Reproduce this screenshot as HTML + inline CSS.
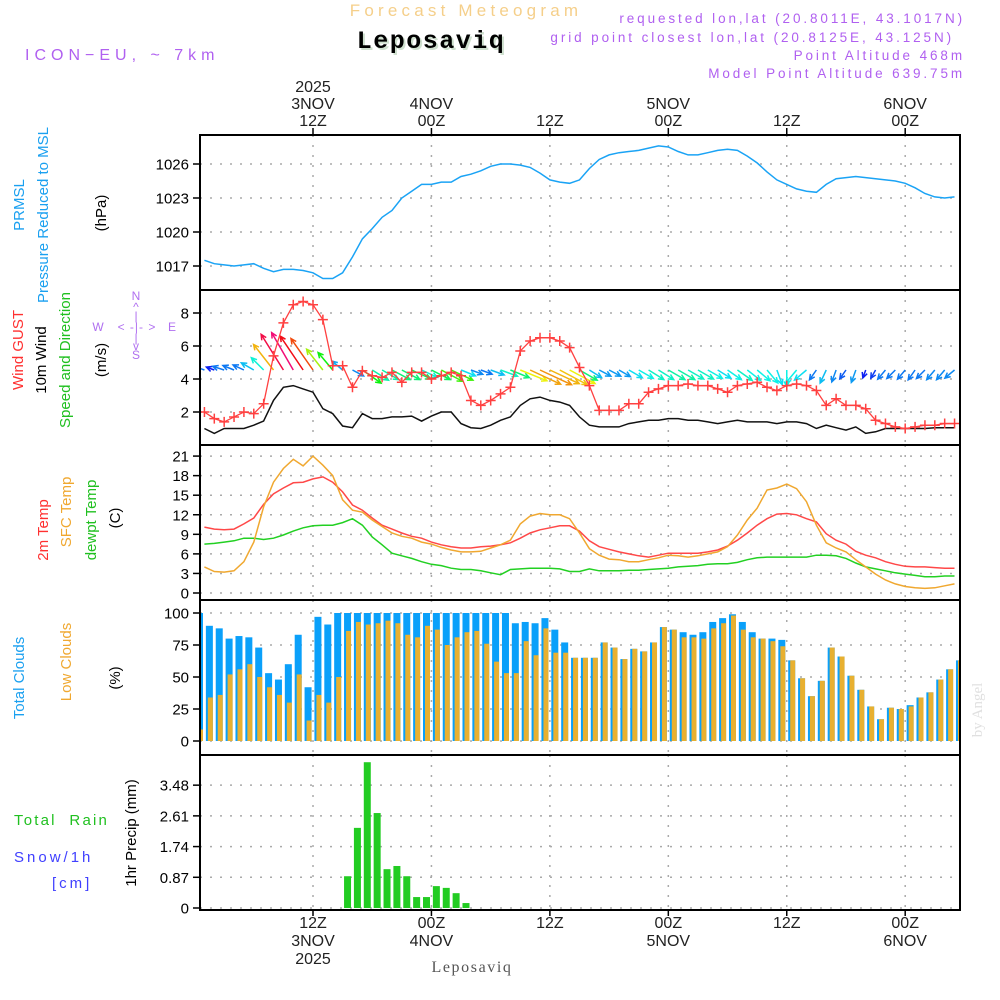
<!DOCTYPE html>
<html><head><meta charset="utf-8"><style>
html,body{margin:0;padding:0;background:#fff;}
svg{display:block;font-family:"Liberation Sans",sans-serif;}
</style></head><body>
<svg id="chart" width="1000" height="1000" viewBox="0 0 1000 1000" xmlns="http://www.w3.org/2000/svg">
<rect x="0" y="0" width="1000" height="1000" fill="#fff"/>
<text x="466" y="16" text-anchor="middle" font-size="17" fill="#f5cf8a" letter-spacing="4.2">Forecast Meteogram</text>
<text x="433" y="50" text-anchor="middle" font-size="25" font-weight="bold" font-family="Liberation Mono,monospace" fill="#cfe0cf" letter-spacing="1.5">Leposaviq</text>
<text x="431" y="48" text-anchor="middle" font-size="25" font-weight="bold" font-family="Liberation Mono,monospace" fill="#000" letter-spacing="1.5">Leposaviq</text>
<text x="25" y="60" font-size="16" fill="#b060f0" letter-spacing="5">ICON−EU, ~ 7km</text>
<g font-size="13.5" fill="#b060f0" letter-spacing="2.9" text-anchor="end">
<text x="965" y="23">requested lon,lat (20.8011E, 43.1017N)</text>
<text x="954" y="42">grid point closest lon,lat (20.8125E, 43.125N)</text>
<text x="965" y="60">Point Altitude 468m</text>
<text x="965" y="78">Model Point Altitude 639.75m</text>
</g>
<g id="grid"></g>
<g id="marks"></g>
<g id="frames"></g>
<g id="ticks" font-size="15" fill="#000"></g>
<g font-size="15">
<text transform="translate(24,205) rotate(-90)" text-anchor="middle" fill="#1aa0f0">PRMSL</text>
<text transform="translate(48,215) rotate(-90)" text-anchor="middle" fill="#1aa0f0">Pressure Reduced to MSL</text>
<text transform="translate(106,213) rotate(-90)" text-anchor="middle" fill="#000">(hPa)</text>
<text transform="translate(23,350) rotate(-90)" text-anchor="middle" fill="#ff3030">Wind GUST</text>
<text transform="translate(46,360) rotate(-90)" text-anchor="middle" fill="#000">10m Wind</text>
<text transform="translate(70,360) rotate(-90)" text-anchor="middle" fill="#20c020">Speed and Direction</text>
<text transform="translate(106,360) rotate(-90)" text-anchor="middle" fill="#000">(m/s)</text>
<text transform="translate(48,530) rotate(-90)" text-anchor="middle" fill="#ff3030">2m Temp</text>
<text transform="translate(71,512) rotate(-90)" text-anchor="middle" fill="#f0a830">SFC Temp</text>
<text transform="translate(96,520) rotate(-90)" text-anchor="middle" fill="#20c020">dewpt Temp</text>
<text transform="translate(120,518) rotate(-90)" text-anchor="middle" fill="#000">(C)</text>
<text transform="translate(24,678) rotate(-90)" text-anchor="middle" fill="#1aa0f0">Total Clouds</text>
<text transform="translate(71,662) rotate(-90)" text-anchor="middle" fill="#f0a830">Low Clouds</text>
<text transform="translate(120,678) rotate(-90)" text-anchor="middle" fill="#000">(%)</text>
<text x="14" y="825" fill="#20c020" letter-spacing="2.2" xml:space="preserve">Total  Rain</text>
<text x="14" y="862" fill="#4040ff" letter-spacing="3">Snow/1h</text>
<text x="52" y="888" fill="#4040ff" letter-spacing="3">[cm]</text>
<text transform="translate(136,833) rotate(-90)" text-anchor="middle" fill="#000">1hr Precip (mm)</text>
</g>
<g fill="#b070f0" font-size="12" text-anchor="middle">
<text x="136" y="300">N</text><text x="136" y="311">^</text><text x="136" y="320">|</text>
<text x="98" y="331">W</text><text x="137" y="331" letter-spacing="1">&lt; -|- &gt;</text><text x="172" y="331">E</text>
<text x="136" y="342">|</text><text x="136" y="350">v</text><text x="136" y="359">S</text>
</g>
<text x="472" y="972" text-anchor="middle" font-size="16" font-family="Liberation Serif,serif" fill="#555" letter-spacing="1.6">Leposaviq</text>
<text transform="translate(982,710) rotate(-90)" text-anchor="middle" font-size="15" font-family="Liberation Serif,serif" fill="#e0e0e0">by Angel</text>
</svg>
<script>
const hours = [];
for (let i = 1; i <= 77; i++) hours.push(i);
const pressure = [1017.5,1017.2,1017.1,1017.0,1017.1,1017.2,1016.8,1016.5,1016.7,1016.7,1016.6,1016.4,1015.9,1015.9,1016.4,1017.8,1019.4,1020.3,1021.3,1021.9,1023.0,1023.6,1024.2,1024.2,1024.4,1024.4,1024.9,1025.1,1025.4,1025.8,1026.0,1026.0,1025.9,1025.7,1025.2,1024.6,1024.4,1024.3,1024.6,1025.6,1026.4,1026.8,1027.0,1027.1,1027.2,1027.4,1027.6,1027.5,1027.1,1026.8,1026.8,1027.0,1027.2,1027.3,1027.2,1026.7,1026.1,1025.3,1024.6,1024.2,1023.8,1023.6,1023.5,1024.2,1024.7,1024.8,1024.9,1024.8,1024.7,1024.6,1024.5,1024.3,1023.9,1023.4,1023.1,1023.0,1023.1];
const gust = [2.0,1.6,1.4,1.7,2.0,1.9,2.5,5.4,7.4,8.5,8.7,8.5,7.6,4.8,4.8,3.5,4.5,4.2,4.1,4.4,3.8,4.4,4.4,4.0,4.2,4.4,4.2,2.7,2.4,2.7,3.1,3.5,5.7,6.3,6.5,6.5,6.3,5.9,4.7,3.6,2.1,2.1,2.1,2.5,2.5,3.2,3.4,3.6,3.6,3.7,3.6,3.6,3.4,3.2,3.6,3.7,3.8,3.5,3.3,3.6,3.7,3.6,3.3,2.4,2.8,2.4,2.4,2.2,1.5,1.3,1.1,1.0,1.1,1.2,1.2,1.3,1.3];
const windSpeed = [1.0,0.7,1.0,1.0,1.0,1.2,1.45,2.7,3.5,3.6,3.4,3.2,2.2,1.9,1.15,1.05,1.9,1.6,1.6,1.7,1.7,1.75,1.45,1.75,2.0,2.0,1.3,1.05,1.0,1.2,1.5,1.7,2.4,2.8,2.9,2.7,2.6,2.4,1.7,1.2,1.1,1.1,1.1,1.3,1.4,1.5,1.5,1.6,1.6,1.5,1.5,1.4,1.3,1.4,1.5,1.4,1.4,1.4,1.3,1.4,1.4,1.3,1.0,1.2,1.05,0.9,1.1,0.7,0.8,1.0,1.0,1.0,1.0,1.0,1.05,1.05,1.05];
const windDirTo = [290,290,288,292,295,300,315,322,328,330,326,325,322,320,310,118,125,122,120,118,118,115,115,117,118,115,112,110,110,110,110,112,112,115,115,115,118,118,120,122,118,118,120,120,120,122,122,120,120,120,120,120,122,125,125,128,130,140,160,180,220,230,215,205,200,215,200,200,210,220,225,220,215,225,220,220,230];
const temp2m = [10.1,9.8,9.7,9.8,10.6,11.5,13.6,15.2,16.1,16.9,17.0,17.5,17.8,17.0,15.5,13.5,12.7,11.5,10.4,9.8,9.2,8.7,8.4,7.8,7.4,7.1,6.9,6.9,7.1,7.2,7.4,7.7,8.4,9.2,9.7,10.0,10.3,10.3,9.5,8.0,7.1,6.7,6.3,6.0,5.7,5.5,5.8,6.1,6.1,6.1,6.1,6.3,6.6,7.2,8.1,9.2,10.4,11.4,12.1,12.2,12.0,11.4,10.9,9.1,8.1,7.5,6.4,5.8,5.4,4.8,4.4,4.1,4.0,4.0,3.9,3.8,3.8];
const sfcTemp = [4.0,3.3,3.2,3.4,4.8,7.8,13.2,17.0,19.1,20.5,19.5,21.0,19.6,18.0,14.3,12.7,12.4,11.2,10.2,9.2,8.7,8.4,7.8,7.5,7.0,6.6,6.3,6.3,6.4,6.9,7.4,8.1,10.6,11.8,12.2,12.0,12.0,11.4,9.2,6.8,5.8,5.2,5.1,4.8,4.8,5.1,5.4,5.8,5.7,5.5,5.7,6.0,6.3,7.1,8.9,11.2,13.0,15.8,16.1,16.7,16.0,14.0,10.4,7.7,6.9,6.3,5.1,4.0,2.9,2.0,1.4,1.0,0.8,0.7,0.8,1.1,1.4];
const dewpoint = [7.5,7.6,7.8,8.0,8.4,8.4,8.2,8.4,8.9,9.5,10.0,10.3,10.4,10.4,10.8,11.4,10.4,8.6,7.4,6.1,5.7,5.3,4.8,4.4,4.2,3.8,3.6,3.6,3.4,3.1,2.8,3.6,3.7,3.8,3.8,3.8,3.7,3.3,3.3,3.7,3.4,3.4,3.4,3.5,3.5,3.6,3.7,3.8,4.0,4.1,4.2,4.4,4.5,4.5,4.7,5.1,5.4,5.5,5.5,5.5,5.5,5.5,5.8,5.8,5.7,5.3,4.6,4.0,3.7,3.4,3.1,2.9,2.7,2.5,2.5,2.6,2.6];
const barHours = [];
for (let i = 0; i <= 77; i++) barHours.push(i + 0.5);
const totalClouds = [100,90,88,80,82,81,73,53,48,60,83,42,97,91,100,100,100,100,100,100,100,100,100,100,100,100,100,100,100,100,100,100,92,93,92,96,87,77,65,65,65,77,73,64,72,70,77,89,87,85,83,85,93,96,99,93,85,80,80,79,63,49,35,47,73,66,51,40,27,17,26,25,28,34,38,48,56,63];
const lowClouds = [9,34,36,52,56,60,50,42,36,30,52,16,36,30,50,86,93,91,92,94,92,83,81,90,87,75,81,85,86,76,62,53,53,78,67,88,69,69,65,65,65,77,73,64,72,70,77,89,87,81,81,80,88,92,98,87,81,80,78,74,63,49,35,47,73,66,51,40,27,17,26,25,27,34,38,48,56,63];
const precipHours = [15.5,16.5,17.5,18.5,19.5,20.5,21.5,22.5,23.5,24.5,25.5,26.5,27.5];
const precip = [0.9,2.27,4.13,2.69,1.1,1.19,0.9,0.31,0.31,0.62,0.57,0.42,0.14];
const pressureTicks = [1017,1020,1023,1026];
const windTicks = [2,4,6,8];
const tempTicks = [0,3,6,9,12,15,18,21];
const cloudTicks = [0,25,50,75,100];
const precipTicks = [0,0.87,1.74,2.61,3.48];
const timeTickHours = [12,24,36,48,60,72];
const timeTopLabels = [["2025","3NOV","12Z"],["","4NOV","00Z"],["","","12Z"],["","5NOV","00Z"],["","","12Z"],["","6NOV","00Z"]];
const timeBottomLabels = [["12Z","3NOV","2025"],["00Z","4NOV",""],["12Z","",""],["00Z","5NOV",""],["12Z","",""],["00Z","6NOV",""]];

const X0 = 200, X1 = 960;
const xh = h => 313 + (h - 12) * 9.87;
const yP = p => 266 - (p - 1017) * 11.333;
const yW = v => 445 - v * 16.5;
const yT = t => 593 - t * 6.52;
const yC = c => 741 - c * 1.28;
const yR = r => 908 - r * 35.3;
const panels = [[135,290,yP,pressureTicks,'pressure'],[290,445,yW,windTicks,'wind'],[445,600,yT,tempTicks,'temperature'],[600,755,yC,cloudTicks,'clouds'],[755,910,yR,precipTicks,'precip']];
const NS = 'http://www.w3.org/2000/svg';
function mk(parent, tag, attrs) {
  const e = document.createElementNS(NS, tag);
  for (const k in attrs) e.setAttribute(k, attrs[k]);
  parent.appendChild(e);
  return e;
}
const grid = document.getElementById('grid');
const marks = document.getElementById('marks');
const frames = document.getElementById('frames');
const ticks = document.getElementById('ticks');

const defs = mk(document.getElementById('chart'), 'defs', {});
panels.forEach((p, i) => {
  const cp = mk(defs, 'clipPath', {id: 'clip' + i});
  mk(cp, 'rect', {x: X0, y: p[0], width: X1 - X0, height: p[1] - p[0]});
});

panels.forEach((p, i) => {
  const [top, bot, ys, tks, nm] = p;
  tks.forEach(v => {
    const y = ys(v);
    const g = mk(grid, 'line', {x1: X0, x2: X1, y1: y, y2: y, stroke: '#aaa', 'stroke-width': 1.5, 'stroke-dasharray': '2,8'});
    
    
    const t = mk(ticks, 'line', {x1: 193, x2: X0, y1: y, y2: y, stroke: '#000', 'stroke-width': 1.5});
    
    
    const lb = mk(ticks, 'text', {x: 189, y: y + 5.5, 'text-anchor': 'end'});
    lb.textContent = String(v);
    
    
  });
  timeTickHours.forEach(h => {
    const x = xh(h);
    const g = mk(grid, 'line', {x1: x, x2: x, y1: top, y2: bot, stroke: '#aaa', 'stroke-width': 1.5, 'stroke-dasharray': '2,8'});
    
    
  });
  const r = mk(frames, 'rect', {x: X0, y: top, width: X1 - X0, height: bot - top, fill: 'none', stroke: '#000', 'stroke-width': 2});
  
  
});

timeTickHours.forEach((h, i) => {
  const x = xh(h);
  const t1 = mk(ticks, 'line', {x1: x, x2: x, y1: 128, y2: 135, stroke: '#000', 'stroke-width': 1.5});
  
  
  const t2 = mk(ticks, 'line', {x1: x, x2: x, y1: 910, y2: 916, stroke: '#000', 'stroke-width': 1.5});
  
  
  timeTopLabels[i].forEach((s, j) => {
    if (!s) return;
    const lb = mk(ticks, 'text', {x: x, y: 92 + j * 17, 'text-anchor': 'middle', 'font-size': 16, fill: '#222'});
    lb.textContent = s;
    
    
  });
  timeBottomLabels[i].forEach((s, j) => {
    if (!s) return;
    const lb = mk(ticks, 'text', {x: x, y: 928 + j * 18, 'text-anchor': 'middle', 'font-size': 16, fill: '#222'});
    lb.textContent = s;
    
    
  });
});

function line(vals, ys, color, name, clip, w) {
  const pts = hours.map((h, i) => xh(h).toFixed(1) + ',' + ys(vals[i]).toFixed(1)).join(' ');
  const pl = mk(marks, 'polyline', {points: pts, fill: 'none', stroke: color, 'stroke-width': w || 1.5, 'clip-path': 'url(#clip' + clip + ')'});
  
  
}
line(pressure, yP, '#1aa3f5', 'pressure-line', 0);

function speedColor(s) {
  const st = [[0.7,235],[1.0,212],[1.3,185],[1.6,160],[1.9,120],[2.2,80],[2.5,52],[2.9,35],[3.3,10],[3.5,-15],[3.7,-40]];
  let hue = st[0][1];
  if (s >= st[st.length-1][0]) hue = st[st.length-1][1];
  else for (let i = 0; i < st.length - 1; i++) {
    if (s >= st[i][0] && s < st[i+1][0]) {
      const f = (s - st[i][0]) / (st[i+1][0] - st[i][0]);
      hue = st[i][1] + (st[i+1][1] - st[i][1]) * f;
    }
  }
  return 'hsl(' + ((hue + 360) % 360) + ',90%,50%)';
}
hours.forEach((h, i) => {
  const s = windSpeed[i], d = windDirTo[i] * Math.PI / 180;
  const L = 12 * s, x = xh(h), y = 370;
  const ex = x + L * Math.sin(d), ey = y - L * Math.cos(d);
  const col = speedColor(s);
  const g = mk(marks, 'g', {stroke: col, 'stroke-width': 1.5, fill: 'none', 'clip-path': 'url(#clip1)'});
  
  
  const ux = (x - ex) / L, uy = (y - ey) / L;
  const hl = 6, a = 0.45;
  const h1x = ex + hl * (ux * Math.cos(a) - uy * Math.sin(a)), h1y = ey + hl * (ux * Math.sin(a) + uy * Math.cos(a));
  const h2x = ex + hl * (ux * Math.cos(-a) - uy * Math.sin(-a)), h2y = ey + hl * (ux * Math.sin(-a) + uy * Math.cos(-a));
  mk(g, 'path', {d: `M${x},${y}L${ex},${ey}M${h1x},${h1y}L${ex},${ey}L${h2x},${h2y}`});
});
line(windSpeed, yW, '#111', 'wind-speed-line', 1);
line(gust, yW, '#ff4040', 'gust-line', 1, 1.3);
hours.forEach((h, i) => {
  const x = xh(h), y = yW(gust[i]);
  const p = mk(marks, 'path', {d: `M${x-5},${y}H${x+5}M${x},${y-5}V${y+5}`, stroke: '#ff4040', 'stroke-width': 1.5, 'clip-path': 'url(#clip1)'});
  
  
});

line(dewpoint, yT, '#22d022', 'dewpoint-line', 2);
line(temp2m, yT, '#ff4848', 'temp-2m-line', 2);
line(sfcTemp, yT, '#f0a830', 'sfc-temp-line', 2);

barHours.forEach((h, i) => {
  const x = xh(h);
  const b = mk(marks, 'rect', {x: x - 3.5, y: yC(totalClouds[i]), width: 7, height: yC(0) - yC(totalClouds[i]), fill: '#0aa0fa', 'clip-path': 'url(#clip3)'});
  
  
  const o = mk(marks, 'rect', {x: x - 1.5, y: yC(lowClouds[i]), width: 5, height: yC(0) - yC(lowClouds[i]), fill: '#e8b030', 'clip-path': 'url(#clip3)'});
  
  
});
precipHours.forEach((h, i) => {
  const x = xh(h);
  const b = mk(marks, 'rect', {x: x - 3.5, y: yR(precip[i]), width: 7, height: yR(0) - yR(precip[i]), fill: '#22cc22'});
  
  
});
</script>
</body></html>
